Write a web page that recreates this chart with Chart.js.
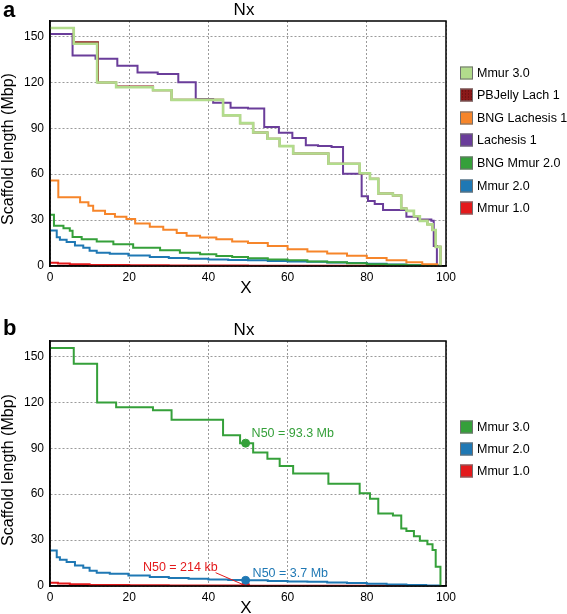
<!DOCTYPE html>
<html><head><meta charset="utf-8">
<script src="https://cdn.jsdelivr.net/npm/chart.js@4"></script>
<style>
html,body{margin:0;padding:0;background:#fff;overflow:hidden;}
#wrap{position:relative;width:567px;height:614px;font-family:"Liberation Sans",Arial,sans-serif;color:#000;}
canvas{position:absolute;left:0;}
.t{position:absolute;white-space:nowrap;line-height:1;}
.panel{font-weight:bold;font-size:22px;}
.title{font-size:17px;transform:translate(-50%,-50%);}
.ytitle{font-size:16px;transform:translate(-50%,-50%) rotate(-90deg);}
.xtitle{font-size:17px;transform:translate(-50%,-50%);}
.it{position:absolute;left:460px;display:flex;align-items:center;white-space:nowrap;transform:translateY(-50%);font-size:12.5px;line-height:1;}
.sw{width:11px;height:11px;border:1px solid #707070;margin-right:4px;}
</style></head>
<body><div id="wrap">
<canvas id="ca" width="470" height="300" style="top:0;width:470px;height:300px"></canvas>
<canvas id="cb" width="470" height="294" style="top:320px;width:470px;height:294px"></canvas>
<div class="t panel" style="left:3px;top:-1px">a</div>
<div class="t panel" style="left:3px;top:317px">b</div>
<div class="t title" style="left:244px;top:9px">Nx</div>
<div class="t title" style="left:244px;top:329px">Nx</div>
<div class="t ytitle" style="left:8px;top:149px">Scaffold length (Mbp)</div>
<div class="t ytitle" style="left:8px;top:470px">Scaffold length (Mbp)</div>
<div class="t xtitle" style="left:246px;top:287px">X</div>
<div class="t xtitle" style="left:246px;top:607px">X</div>
</div>
<script>
const FONT = '"Liberation Sans", Arial, sans-serif';
const xTicks = [0, 20, 40, 60, 80, 100];
const yTicks = [0, 30, 60, 90, 120, 150];

// Mmur 3.0
const mmur3X = [0, 6.0, 11.9, 16.7, 26.0, 30.7, 43.7, 48.0, 51.3, 54.9, 58.0, 61.4, 70.3, 78.2, 80.8, 82.9, 86.6, 88.7, 90.0, 91.9, 93.4, 95.3, 96.6, 97.4, 98.6];
const mmur3Y = [155.4, 145.1, 119.8, 116.7, 114.8, 108.5, 98.4, 93.3, 87.2, 83.1, 78.3, 73.5, 66.8, 60.6, 56.9, 47.3, 46.0, 37.6, 36.0, 32.5, 29.5, 27.2, 23.5, 12.5, 0];
// PBJelly Lach 1
const pbjX = [0, 6.0, 12.1, 16.7, 26.0, 30.7, 43.7, 48.0, 51.3, 54.9, 58.0, 61.4, 70.3, 78.2, 80.8, 82.9, 86.6, 88.7, 90.0, 91.9, 93.4, 95.3, 96.6, 97.4, 98.6];
const pbjY = [155.4, 146.2, 119.8, 117.2, 114.8, 108.5, 98.4, 93.3, 87.2, 83.1, 78.3, 73.5, 66.8, 60.6, 56.9, 47.3, 46.0, 37.6, 36.0, 32.5, 29.5, 27.2, 23.5, 12.5, 0];
// BNG Lachesis 1
const bngLachX = [0, 2.1, 7.6, 9.7, 10.9, 13.9, 16.4, 19.3, 21.5, 25.2, 28.6, 32.0, 34.5, 37.9, 42, 46, 50, 55, 60, 65, 70, 75, 80, 85, 90, 94, 97.8];
const bngLachY = [55.8, 44.9, 41.6, 39.4, 36.1, 33.9, 32.2, 30.7, 27.8, 25.6, 23.6, 21.5, 19.7, 18.6, 17.4, 16.0, 15.0, 13.0, 11.0, 9.5, 8.1, 6.7, 5.2, 3.8, 2.4, 1.2, 0];
// Lachesis 1
const lachX = [0, 5.7, 11.5, 17.0, 22.1, 27.2, 32.4, 36.8, 41.2, 45.6, 50.0, 54.1, 57.8, 61.2, 64.6, 67.7, 71.1, 74.0, 78.7, 80.3, 82.0, 84.1, 90.0, 92.9, 96.3, 96.9, 97.7];
const lachY = [151.5, 137.4, 135.3, 130.7, 126.3, 125.4, 120.0, 109.0, 106.6, 103.3, 102.9, 90.8, 87.1, 83.6, 78.8, 78.3, 77.7, 60.2, 45.5, 42.5, 40.5, 36.6, 32.2, 30.4, 29.5, 13.0, 0];
// BNG Mmur 2.0
const bngMmurX = [0, 1.0, 3.4, 5.0, 5.7, 8.0, 11.8, 16.0, 21.0, 27.8, 32.8, 37.9, 42, 46, 50, 55, 60, 65, 70, 75, 80, 85, 90, 94, 97.8];
const bngMmurY = [33.5, 26.3, 24.7, 23.0, 19.0, 17.5, 16.0, 14.2, 12.0, 10.3, 8.7, 7.7, 6.6, 5.8, 5.1, 4.3, 3.7, 3.0, 2.4, 1.8, 1.2, 0.8, 0.5, 0.2, 0];
// Mmur 2.0
const mmur2X = [0, 1.7, 2.5, 4.2, 6.3, 8.4, 10, 11.8, 15.1, 19.8, 25.2, 30, 35, 40, 45, 50, 55, 60, 65, 70, 75, 80, 85, 90, 95, 98.2];
const mmur2Y = [23.2, 18.8, 17.1, 15.6, 13.4, 11.9, 10.0, 8.6, 8.0, 6.9, 5.9, 5.2, 4.7, 4.3, 4.0, 3.7, 3.3, 3.0, 2.7, 2.3, 1.9, 1.4, 1.0, 0.6, 0.3, 0];
// Mmur 1.0
const mmur1X = [0, 2, 5, 10, 20, 30, 40, 50, 60, 70, 80, 90, 98];
const mmur1Y = [2.2, 1.6, 1.1, 0.7, 0.45, 0.32, 0.26, 0.214, 0.17, 0.13, 0.09, 0.05, 0];

// N50 markers (panel b): Mmur 3.0, Mmur 2.0, Mmur 1.0
const n50X = [49.4, 49.4, 49.4];
const n50Y = [93.3, 3.7, 0.214];
const n50Text = ['N50 = 93.3 Mb', 'N50 = 3.7 Mb', 'N50 = 214 kb'];

const seriesA = ['Mmur 3.0', 'PBJelly Lach 1', 'BNG Lachesis 1', 'Lachesis 1', 'BNG Mmur 2.0', 'Mmur 2.0', 'Mmur 1.0'];
const seriesB = ['Mmur 3.0', 'Mmur 2.0', 'Mmur 1.0'];

const C = {
  lightGreen: '#b2dc8c', darkRed: '#8b1a1a', orange: '#f6852a', purple: '#6a3d9a',
  green: '#35a03a', blue: '#1f78b4', red: '#e31a1c'
};

function xy(xs, ys) { return xs.map((x, i) => ({ x: x, y: ys[i] })); }
function line(label, xs, ys, color, w) {
  return { label: label, data: xy(xs, ys), borderColor: color, backgroundColor: color,
    borderWidth: w || 2, stepped: 'before', pointRadius: 0, fill: false };
}

const boxPlugin = { id: 'box', afterDraw(chart) {
  const a = chart.chartArea, ctx = chart.ctx;
  ctx.save(); ctx.strokeStyle = '#000'; ctx.lineWidth = 1.5;
  ctx.strokeRect(a.left, a.top, a.right - a.left, a.bottom - a.top); ctx.restore();
}};

function options(xh) {
  const grid = { color: '#9a9a9a', lineWidth: 1, drawTicks: false };
  const border = { display: true, color: '#000', width: 1.5, dash: [2, 2] };
  const tick = { color: '#000', font: { family: FONT, size: 12 } };
  return {
    responsive: false, animation: false, devicePixelRatio: 1,
    layout: { padding: { top: 21, right: 24, left: 0, bottom: 0 } },
    plugins: { legend: { display: false }, title: { display: false }, tooltip: { enabled: false } },
    scales: {
      x: { type: 'linear', min: 0, max: 100, grid: grid, border: border,
        afterBuildTicks: s => { s.ticks = xTicks.map(v => ({ value: v })); },
        afterFit: s => { s.height = xh; s.paddingLeft = 0; s.paddingRight = 0; },
        ticks: Object.assign({ padding: 4, maxRotation: 0 }, tick) },
      y: { type: 'linear', min: 0, max: 160, grid: grid, border: border,
        afterBuildTicks: s => { s.ticks = yTicks.map(v => ({ value: v })); },
        afterFit: s => { s.width = 50; s.paddingTop = 0; s.paddingBottom = 0; },
        ticks: Object.assign({ padding: 6 }, tick) }
    }
  };
}

new Chart(document.getElementById('ca'), {
  type: 'line',
  data: { datasets: [
    line(seriesA[0], mmur3X, mmur3Y, C.lightGreen, 2.6),
    line(seriesA[1], pbjX, pbjY, C.darkRed, 2),
    line(seriesA[2], bngLachX, bngLachY, C.orange, 2),
    line(seriesA[3], lachX, lachY, C.purple, 2),
    line(seriesA[4], bngMmurX, bngMmurY, C.green, 2),
    line(seriesA[5], mmur2X, mmur2Y, C.blue, 2),
    line(seriesA[6], mmur1X, mmur1Y, C.red, 2)
  ]},
  options: options(34),
  plugins: [boxPlugin]
});

const n50Colors = [C.green, C.blue, C.red];
const n50Plugin = { id: 'n50', afterDatasetsDraw(chart) {
  const ctx = chart.ctx, xs = chart.scales.x, ys = chart.scales.y;
  const place = [{ dx: 6, dy: -10, align: 'left' }, { dx: 7, dy: -7, align: 'left' }, { dx: -28, dy: -18, align: 'right', leader: true }];
  ctx.save();
  ctx.font = '12.5px ' + FONT; ctx.textBaseline = 'middle';
  n50Y.forEach((v, i) => {
    const px = xs.getPixelForValue(n50X[i]), py = ys.getPixelForValue(v), p = place[i];
    ctx.fillStyle = n50Colors[i]; ctx.textAlign = p.align;
    ctx.fillText(n50Text[i], px + p.dx, py + p.dy);
    if (p.leader) {
      ctx.strokeStyle = n50Colors[i]; ctx.lineWidth = 1;
      ctx.beginPath(); ctx.moveTo(px - 30, py - 13); ctx.lineTo(px, py); ctx.stroke();
    }
  });
  ctx.restore();
}};

function pt(i) {
  return { label: 'N50 ' + seriesB[i], data: [{ x: n50X[i], y: n50Y[i] }], showLine: false,
    pointRadius: 4, pointBackgroundColor: n50Colors[i], pointBorderColor: n50Colors[i], borderColor: n50Colors[i] };
}

new Chart(document.getElementById('cb'), {
  type: 'line',
  data: { datasets: [
    pt(0), pt(1), pt(2),
    line(seriesB[0], mmur3X, mmur3Y, C.green, 2),
    line(seriesB[1], mmur2X, mmur2Y, C.blue, 2),
    line(seriesB[2], mmur1X, mmur1Y, C.red, 2)
  ]},
  options: options(28),
  plugins: [boxPlugin, n50Plugin]
});

function legend(names, colors, ys) {
  const wrap = document.getElementById('wrap');
  names.forEach((n, i) => {
    const d = document.createElement('div'); d.className = 'it'; d.style.top = ys[i] + 'px';
    const s = document.createElement('span'); s.className = 'sw'; s.style.background = colors[i];
    if (n === 'PBJelly Lach 1') { s.style.backgroundImage = 'radial-gradient(#5a0a0a 30%, transparent 35%)'; s.style.backgroundSize = '3px 3px'; }
    d.appendChild(s); d.appendChild(document.createTextNode(n)); wrap.appendChild(d);
  });
}
legend(seriesA, [C.lightGreen, C.darkRed, C.orange, C.purple, C.green, C.blue, C.red], [72.5, 95, 117.5, 140, 163, 185.5, 208]);
legend(seriesB, [C.green, C.blue, C.red], [427, 449, 471]);
</script>
</body></html>
